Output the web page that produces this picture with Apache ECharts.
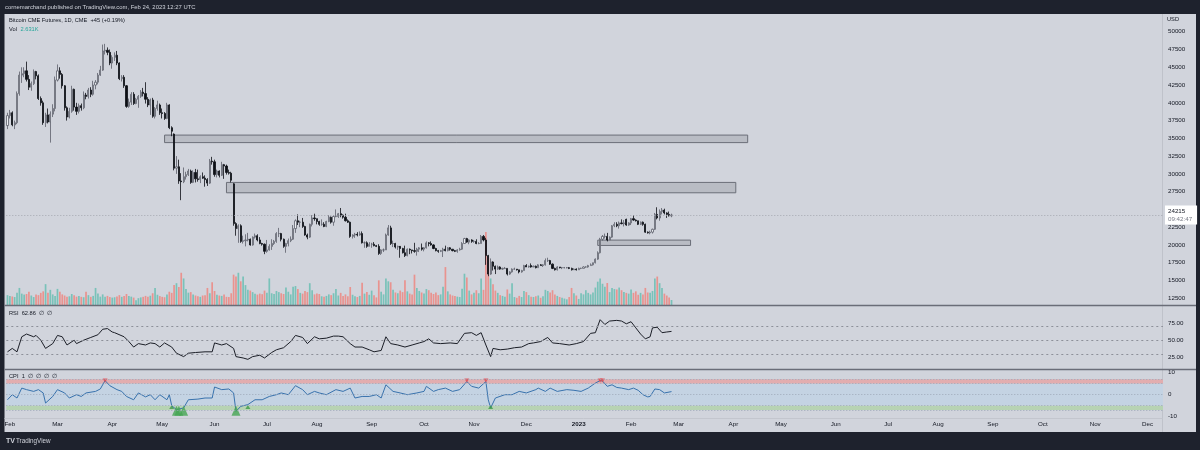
<!DOCTYPE html>
<html><head><meta charset="utf-8">
<script src="https://cdn.jsdelivr.net/npm/echarts@6/dist/echarts.min.js"></script>
<style>html,body{margin:0;padding:0;background:#1e222d;}#c{width:1200px;height:450px;}</style>
</head><body><div id="c"></div>
<script>
// ---------- DATA ----------
const startDate = '2022-01-31';   // first daily bar (weekdays only)
const barCount = 486;             // bars spanned by the time axis (incl. future space)
const monthNames = ['Jan','Feb','Mar','Apr','May','Jun','Jul','Aug','Sep','Oct','Nov','Dec'];
const priceTicks = {min:10000, max:52500, step:2500};
// daily candles [open, close, low, high]
const candles = [
[36800,38200,36300,38600],[38200,38600,37800,39000],[38600,36900,36700,38800],[36900,37200,36300,37500],[37200,41300,37000,41600],
[41300,43900,41000,44400],[43900,44100,42800,45000],[44100,44500,43600,45000],[44500,43300,43000,45800],[43300,42200,41800,43900],
[42200,42700,41700,43000],[42700,44400,42500,44700],[44400,43800,43300,44500],[43800,40600,40400,44000],[40600,40000,39600,40900],
[40000,37200,36900,40300],[37200,38300,36600,38600],[38300,37300,37100,39200],[37300,38400,34400,38800],[38400,39200,38000,39800],
[39200,43200,38800,43700],[43200,44500,43000,45400],[44500,44000,43400,45000],[44000,42400,42000,44200],[42400,39300,38900,42500],
[39300,38000,37500,39500],[38000,38800,37800,39300],[38800,41900,38600,42400],[41900,39400,38900,42000],[39400,38800,38300,40000],
[38800,39600,38500,39900],[39600,39300,38900,39900],[39300,41100,39100,41600],[41100,40900,40500,41400],[40900,41800,40600,42100],
[41800,41200,40800,42200],[41200,42500,41000,43100],[42500,42900,41900,43200],[42900,43900,42600,44200],[43900,44600,43800,45200],
[44600,47300,44500,48200],[47300,47400,46800,48300],[47400,47100,46700,47800],[47100,45600,45300,47500],[45600,46400,44800,46700],
[46400,46700,45900,47100],[46700,45600,45300,47300],[45600,43400,43200,45700],[43400,43600,43000,43900],[43600,42400,42100,43900],
[42400,39500,39300,42500],[39500,40100,39300,40600],[40100,41200,39700,41500],[41200,39900,39700,41500],[39900,40500,39800,40700],
[40500,40900,39300,41100],[40900,41500,40700,41800],[41500,41300,40900,42100],[41300,40500,39900,42900],[40500,39700,39400,40800],
[39700,40400,38300,40600],[40400,38100,37900,40700],[38100,39200,37800,39400],[39200,39700,38900,40300],[39700,38600,38300,39900],
[38600,38500,37800,39200],[38500,37800,37600,38700],[37800,39700,37700,40000],[39700,36500,36300,39800],[36500,36000,35300,36700],
[35600,30800,30500,35700],[30800,31000,30000,32500],[31000,29000,28600,32000],[29000,28900,26300,30100],[28900,29600,28700,30900],
[29600,29900,29200,30300],[29900,30400,29700,30700],[30400,28800,28600,30600],[28800,30200,28700,30500],[30200,29300,28800,30700],
[29300,29200,28900,30600],[29200,29600,28700,29800],[29600,29400,29300,30200],[29400,29200,28200,29800],[29200,28700,28300,29400],
[28700,31800,28600,32100],[31800,31700,31300,32400],[31700,29900,29600,32000],[29900,30400,29500,30600],[30400,29800,29500,30500],
[29800,31300,29700,31700],[31300,31100,29300,31400],[31100,30200,29900,31300],[30200,30100,29900,30600],[30100,29100,28800,30300],
[28600,23000,22700,28700],[23000,22300,21300,23200],[22300,22700,20300,22900],[22700,20500,20300,22900],[20500,20600,20200,21300],
[20600,20700,19800,21500],[20700,20800,20500,21700],[20800,20000,19900,20900],[20000,21100,19900,21200],[21100,21300,20900,21600],
[21300,20700,20500,21500],[20700,20200,20100,21100],[20200,20100,19900,20300],[20100,19100,18700,20200],[19100,19300,18900,20700],
[19300,19800,19200,20100],[19800,20200,19300,20800],[20200,20500,20000,20700],[20500,21600,20300,21800],[21600,21600,21100,22400],
[21600,20800,20500,21700],[20800,19800,19600,20900],[19800,20200,18900,20300],[20200,20600,19800,20900],[20600,20800,20400,21200],
[20800,22300,20700,22800],[22300,23400,21700,23600],[23400,23200,22800,24300],[23200,23200,22500,23400],[23200,22600,22400,23800],
[22600,21400,21300,22700],[21400,21100,20800,21600],[21100,22900,21000,23000],[22900,23800,22600,24200],[23800,23700,23400,24400],
[23700,23300,22900,23700],[23300,22900,22700,23400],[22900,22900,22700,23600],[22900,22600,22500,23200],[22600,23300,22500,23400],
[23300,23900,23200,24200],[23900,23200,23000,24000],[23200,24000,22700,24200],[24000,24000,23900,25000],[24000,24400,23800,24500],
[24400,24200,23900,25200],[24200,23900,23700,24300],[23900,23400,23300,24400],[23400,23200,23100,23600],[23200,21200,21000,23300],
[21200,21400,20900,21500],[21400,21500,21000,21700],[21500,21400,21200,21800],[21400,21600,21300,21900],[21600,20300,20200,21900],
[20300,20300,19600,20500],[20300,19800,19600,20500],[19800,20100,19800,20400],[20100,20100,19600,20300],[20100,19900,19800,20400],
[19900,19800,19700,20000],[19800,18800,18600,20100],[18800,19300,18600,19400],[19300,19300,19000,19500],[19300,21400,19300,21600],
[21400,22400,21300,22800],[22400,20200,20000,22700],[20200,20200,19700,20600],[20200,19700,19500,20300],[19700,19800,19300,19900],
[19800,19500,18200,19700],[19500,18900,18800,19600],[18900,18500,18300,19900],[18500,19400,18400,19500],[19400,19300,18700,19500],
[19300,19200,18800,19300],[19200,19100,18900,20300],[19100,19400,18500,19600],[19400,19600,19000,19700],[19600,19400,19200,20200],
[19400,19600,19100,19700],[19600,20300,19500,20500],[20300,20200,19800,20400],[20200,20000,19900,20500],[20000,19500,19400,20100],
[19500,19200,19100,19600],[19200,19100,18900,19300],[19100,19200,19000,19300],[19200,19400,18300,19600],[19400,19200,19100,19900],
[19200,19600,19100,19700],[19600,19400,19200,19700],[19400,19200,19100,19400],[19200,19100,19000,19300],[19100,19300,18900,19400],
[19300,19400,19200,19600],[19400,20200,19300,20400],[20200,20900,20200,21000],[20900,20400,20300,21000],[20400,20700,20100,20800],
[20700,20500,20300,20800],[20500,20500,20300,20700],[20500,20200,20100,20800],[20200,20200,20100,20400],[20200,21200,20200,21400],
[21200,20700,20500,21400],[20700,18500,17200,21000],[18500,15900,15600,18600],[15900,17600,15800,18100],[17600,17000,16400,17700],
[17000,16600,15900,17100],[16600,16900,16500,17100],[16900,16600,16500,17000],[16600,16700,16500,16800],[16700,16700,16600,16900],
[16700,15900,15700,16700],[15900,16200,15800,16300],[16200,16600,16100,16700],[16600,16600,16500,16800],[16600,16500,16400,16600],
[16500,16200,16000,16500],[16200,16400,16100,16500],[16400,17100,16400,17200],[17100,16900,16900,17300],[16900,17000,16800,17100],
[17100,16900,16800,17400],[16900,17000,16900,17100],[17000,16800,16700,17100],[16800,17200,16800,17300],[17200,17100,17100,17300],
[17100,17200,16900,17300],[17200,17800,17100,18100],[17800,17800,17600,18200],[17800,17300,17200,17900],[17300,16700,16600,17400],
[16700,16500,16400,16800],[16500,16900,16400,17000],[16900,16800,16700,16900],[16800,16800,16600,16900],[16800,16800,16700,16900],
[16800,16800,16700,16900],[16800,16700,16600,16900],[16700,16500,16400,16800],[16500,16600,16500,16700],[16600,16500,16400,16700],
[16500,16700,16500,16800],[16700,16700,16600,16800],[16700,16900,16700,17000],[16900,16900,16800,17000],[16900,17100,16800,17200],
[17100,17200,17100,17400],[17200,17500,17100,17500],[17500,18000,17400,18100],[18000,18900,17900,19100],[18900,20800,18800,21000],
[20800,21200,20600,21400],[21200,21200,20900,21600],[21200,20700,20500,21700],[20700,21100,20700,21200],[21100,22700,21000,22800],
[22700,22900,22500,23200],[22900,22700,22500,23200],[22700,23100,22300,23300],[23100,23000,22900,23600],[23000,23100,22600,23500],
[23600,22800,22700,23700],[22800,23100,22700,23200],[23100,23700,22800,23800],[23700,23500,23400,24200],[23500,23400,23300,23600],
[23400,22900,22800,23400],[22900,23200,22800,23300],[23200,22900,22700,23300],[22900,21800,21700,23000],[21800,21700,21600,21900],
[21700,21800,21500,22000],[21800,22200,21600,22300],[22200,24300,22100,24500],[24300,23800,23600,25300],[23800,24700,23400,25000],
[24700,24900,24300,25200],[24900,24500,24300,25100],[24500,24300,23800,24600],[24300,24100,24000,24700],[24100,24215,23900,24400]
];
// daily volume (contracts)
const volumes = [
5200,4800,4500,4200,6500, 9000,6000,5500,5800,7000, 5000,4200,5600,5200,6400, 7200,11000,6500,8000,5600,
4800,8500,7000,5600,5000, 4300,4600,5800,5200,4400, 4700,4300,4100,7000,5200, 4300,4800,9000,6000,4400,
5600,4400,4800,4200,3900, 4100,4500,5200,4300,4800, 5800,4700,4400,3900,2500, 3600,4000,4300,4800,4400,
4900,6200,9000,5400,4700, 4300,4100,5600,7000,6400, 10500,11500,9500,17000,14000, 8500,6500,6800,5600,5000,
4600,4300,5000,5200,9000, 6200,12000,7400,5400,5000, 4800,5500,4300,4200,6200, 16000,15000,17000,12500,15000,
10500,8000,7600,6800,5900, 5500,6000,5700,7600,6400, 14000,6200,5800,7400,6800, 6200,5800,9200,7000,5600,
9600,10000,8400,6400,6000, 7400,6800,11500,7800,5600, 6000,5800,4600,4400,4800, 5600,5200,6200,8400,5000,
6400,4800,5600,4600,9500, 5400,4600,4200,4800,11700, 6000,6800,5400,7600,5200, 4000,13000,7000,5600,14000,
12500,12000,8000,6600,6200, 7600,6800,13000,7200,6000, 5600,16000,9000,7400,6600, 6000,8400,7800,6400,5800,
6600,5200,5600,9600,20000, 7200,5600,5000,4800,4400, 4200,8600,16500,14500,7600, 5600,6400,7800,6200,14000,
8000,38500,25000,14000,11000, 7600,6400,5200,4800,4400, 8200,6000,11500,4200,3800, 4800,4200,7400,6800,5200,
4400,4200,4600,5000,3800, 4600,8000,7400,6600,7800, 5600,4800,4200,3800,3400, 3000,4200,9000,6200,5000,
3200,6200,5600,7800,6400, 5600,6600,9200,12300,14000, 11200,9600,11600,6800,9000, 8400,8200,9200,7800,6800,
6400,6000,8200,6400,7200, 5400,6400,5600,9000,6600, 6400,7400,14000,15000,11500, 9000,6000,5000,4000,2631
];
// RSI (bar index, value)
const rsiIdx = [0,2,4,6,8,11,12,14,16,19,21,23,25,28,29,32,35,38,40,42,44,45,49,51,53,55,58,60,62,64,66,69,71,74,76,79,83,86,87,90,92,95,96,99,101,103,106,108,111,113,116,119,121,124,126,129,131,134,137,139,141,144,146,149,152,154,157,159,161,164,167,170,173,175,177,179,182,186,189,192,195,197,199,201,203,204,207,210,213,216,219,221,224,227,229,232,236,239,242,245,247,249,251,253,256,258,260,262,264,266,268,270,271,273,275,277,279];
const rsiVal = [33,38,33,55,59,55,57,50,38,45,57,55,43,50,45,50,54,58,66,67,62,61,55,48,40,45,43,46,45,40,46,40,31,26,31,32,33,33,46,43,45,38,26,24,22,26,28,24,32,36,39,48,57,54,45,55,52,53,56,56,55,45,40,40,36,33,35,55,45,43,40,43,46,48,52,46,45,46,45,60,61,57,61,43,26,38,36,37,39,40,45,46,48,54,46,45,43,45,48,60,61,80,73,78,79,78,74,77,68,59,52,55,68,69,61,62,62.86];
// CPI (bar index, value)
const cpiIdx = [0,2,4,6,8,11,13,15,16,19,21,24,26,29,31,33,37,39,41,43,46,48,50,53,55,58,60,62,64,67,68,69,71,74,76,80,83,86,87,90,93,95,96,98,101,104,107,110,113,115,118,121,124,126,129,131,134,138,141,144,146,149,152,155,157,159,162,165,168,172,175,176,179,181,184,187,190,193,195,198,201,202,203,205,209,212,215,218,222,223,226,228,231,235,238,241,244,247,249,250,252,254,256,258,261,263,265,267,269,270,272,274,276,279];
const cpiVal = [-2.3,0,-1.5,3,2.3,1.5,2.3,0.8,-3.8,-0.8,2.3,0.8,-1.5,0,-0.8,0.8,1.5,2.6,6.4,4.1,2.3,1.5,-0.8,-2.3,0.8,-1,0,-2.3,0,-2.3,0,-5,-6.8,-6,-2.3,-2,-1.5,-1.5,3.5,2.3,2.6,0.8,-7.6,-5.3,-4.5,-2.3,-2.3,-0.8,0,0.8,0,4.1,2.3,0,1.5,0.8,0,2.3,1.5,3,-1.5,-0.8,-0.8,0,-1.5,4.5,1.5,0.8,0,0.8,1.5,3.8,1.5,2.3,3,1.5,2.3,6,3.8,3,6,-2.3,-6,-1.5,0,0,1.5,0.8,2.3,3,1.5,3,1.5,2.3,2,1.5,3,5.3,6.4,6.2,3.8,4.5,3.3,3,2.3,3,2,0,-1,-0.8,2.6,2.3,0.8,1.4];
const cpiRedMarks = [41,193,201,249,250];
const cpiGreenSmall = [69,101,203];
const cpiGreenBig = [71,72,74,96];
const cpiBands = {redTop:7, redBottom:5, greenTop:-5, greenBottom:-7};
// drawn zones [fromBar, toBar, topPrice, bottomPrice]
const boxes = [[66,311,35460,34400],[92,306,28800,27340],[248,287,20680,19930]];
const lastPrice = 24215;
const lastTime = '09:42:47';
const rsiLast = '62.86';
const lastVol = '2.631K';

// ---------- CHART ----------
const FF = '"Liberation Sans", Arial, sans-serif';
const cats = [];
{ let d = new Date(startDate + 'T00:00:00Z');
  while (cats.length < barCount) { const w = d.getUTCDay(); if (w !== 0 && w !== 6) cats.push(d.toISOString().slice(0,10)); d.setUTCDate(d.getUTCDate() + 1); } }

const UP = '#79c2b9', DOWN = '#e9938f';
const L = 6.3, R = 37;
const gridTopP = 14, gridHP = 302;
const FS = 6.2;

function xAx(i, showLabels) {
  return { type:'category', gridIndex:i, data:cats, boundaryGap:true,
    axisLine:{show:false}, axisTick:{show:false}, splitLine:{show:false},
    axisLabel: showLabels ? {
      show:true, color:'#131722', fontSize:FS, fontFamily:FF, margin:5,
      interval:(idx) => idx > 0 && cats[idx].slice(5,7) !== cats[idx-1].slice(5,7),
      formatter:(v) => { const m = +v.slice(5,7); return m === 1 ? '{y|' + v.slice(0,4) + '}' : monthNames[m-1]; },
      rich:{y:{fontWeight:'bold', fontSize:FS, color:'#131722', fontFamily:FF}}
    } : {show:false} };
}
const yLab = {color:'#131722', fontSize:FS, fontFamily:FF, margin:5};

const chart = echarts.init(document.getElementById('c'), null, {renderer:'canvas'});
chart.setOption({
  animation:false,
  backgroundColor:'#1e222d',
  grid:[
    {left:L, right:R, top:gridTopP, height:gridHP},
    {left:L, right:R, top:195, height:110},
    {left:L, right:R, top:306, height:68.4},
    {left:L, right:R, top:372.7, height:44}
  ],
  xAxis:[xAx(0,false), xAx(1,false), xAx(2,false), xAx(3,true)],
  yAxis:[
    {type:'value', gridIndex:0, position:'right', min:priceTicks.min, max:priceTicks.max, interval:priceTicks.step,
     axisLine:{show:false}, axisTick:{show:false}, splitLine:{show:false},
     axisLabel:Object.assign({showMinLabel:false, showMaxLabel:false, formatter:(v)=>String(v)}, yLab)},
    {type:'value', gridIndex:1, min:0, max:58000, show:false, splitLine:{show:false}},
    {type:'value', gridIndex:2, position:'right', min:0, max:100, interval:25,
     axisLine:{show:false}, axisTick:{show:false}, splitLine:{show:false},
     axisLabel:Object.assign({showMinLabel:false, showMaxLabel:false, formatter:(v)=>v.toFixed(2)}, yLab)},
    {type:'value', gridIndex:3, position:'right', min:-10, max:10, interval:10,
     axisLine:{show:false}, axisTick:{show:false}, splitLine:{show:false},
     axisLabel:Object.assign({formatter:(v)=>String(v)}, yLab)}
  ],
  graphic:[
    {type:'rect', z:-10, shape:{x:4.5, y:14, width:1191.5, height:418}, style:{fill:'#d1d4dc'}},
    {type:'text', x:5, y:7, style:{text:'cornemarchand published on TradingView.com, Feb 24, 2023 12:27 UTC', fill:'#d1d4dc', font:'5.9px ' + FF, textVerticalAlign:'middle'}},
    {type:'text', x:9, y:20.5, style:{text:'Bitcoin CME Futures, 1D, CME  +45 (+0.19%)', fill:'#131722', font:'5.7px ' + FF, textVerticalAlign:'middle'}},
    {type:'text', x:9, y:29.5, style:{text:'Vol', fill:'#131722', font:'5.7px ' + FF, textVerticalAlign:'middle'}},
    {type:'text', x:20.5, y:29.5, style:{text:lastVol, fill:'#26a69a', font:'5.7px ' + FF, textVerticalAlign:'middle'}},
    {type:'text', x:1167, y:19, style:{text:'USD', fill:'#131722', font:'5.7px ' + FF, textVerticalAlign:'middle'}},
    {type:'text', x:9, y:313, style:{text:'RSI  ' + rsiLast + '  \u2205  \u2205', fill:'#131722', font:'5.7px ' + FF, textVerticalAlign:'middle'}},
    {type:'text', x:9, y:376.5, style:{text:'CPI  1  \u2205  \u2205  \u2205  \u2205', fill:'#131722', font:'5.7px ' + FF, textVerticalAlign:'middle'}},
    {type:'line', z:50, shape:{x1:4.5, y1:305.5, x2:1196, y2:305.5}, style:{stroke:'#6a6d78', lineWidth:1.5}},
    {type:'line', z:50, shape:{x1:4.5, y1:369.5, x2:1196, y2:369.5}, style:{stroke:'#6a6d78', lineWidth:1.5}},
    {type:'line', z:-5, shape:{x1:1162.5, y1:14, x2:1162.5, y2:432}, style:{stroke:'#bfc2ca', lineWidth:1}},
    {type:'line', z:-5, shape:{x1:4.5, y1:418.5, x2:1162.5, y2:418.5}, style:{stroke:'#c3c6ce', lineWidth:1}},
    {type:'text', x:6, y:441, style:{text:'TV', fill:'#d1d4dc', font:'bold 7px ' + FF, textVerticalAlign:'middle'}},
    {type:'text', x:16, y:441, style:{text:'TradingView', fill:'#d1d4dc', font:'6.3px ' + FF, textVerticalAlign:'middle'}}
  ],
  series:[
    {type:'bar', name:'vol', xAxisIndex:1, yAxisIndex:1, z:1, barWidth:'72%',
     data:volumes.map((v,i)=>({value:v, itemStyle:{color: candles[i][1] >= candles[i][0] ? UP : DOWN}}))},
    {type:'line', name:'zones', xAxisIndex:0, yAxisIndex:0, z:2, data:[], symbol:'none',
     markArea:{silent:true,
       itemStyle:{color:'#b9bcc4', borderColor:'#6b6e78', borderWidth:1},
       data:boxes.map(b=>[{xAxis:b[0], yAxis:b[2]}, {xAxis:b[1], yAxis:b[3]}])}},
    {type:'candlestick', name:'BTC', xAxisIndex:0, yAxisIndex:0, z:3, barWidth:'68%',
     data:candles,
     itemStyle:{color:'#eceef2', color0:'#0d0f15', borderColor:'#5d606b', borderColor0:'#0d0f15', borderWidth:0.8},
     markLine:{silent:true, symbol:'none', animation:false,
       lineStyle:{color:'#a5a8b0', type:[1,2], width:1},
       label:{show:true, position:'end', distance:2, formatter:'{p|' + lastPrice + '}\n{t|' + lastTime + '}',
         backgroundColor:'#ffffff', padding:[2,5,1,3],
         rich:{p:{fontSize:FS, color:'#131722', fontFamily:FF, lineHeight:8}, t:{fontSize:FS, color:'#787b86', fontFamily:FF, lineHeight:8}}},
       data:[{yAxis:lastPrice}]}},
    {type:'line', name:'RSI', xAxisIndex:2, yAxisIndex:2, z:3, symbol:'none',
     lineStyle:{color:'#1b1e27', width:1},
     data:rsiIdx.map((x,i)=>[x, rsiVal[i]]),
     markLine:{silent:true, symbol:'none', label:{show:false},
       lineStyle:{color:'#8d9099', type:[2,3], width:1},
       data:[{yAxis:70},{yAxis:50},{yAxis:30}]}},
    {type:'line', name:'CPI', xAxisIndex:3, yAxisIndex:3, z:3, symbol:'none',
     lineStyle:{color:'#3872ad', width:1},
     data:cpiIdx.map((x,i)=>[x, cpiVal[i]]),
     markArea:{silent:true, data:[
       [{yAxis:cpiBands.redTop, itemStyle:{color:'#e2adaf'}}, {yAxis:cpiBands.redBottom}],
       [{yAxis:cpiBands.redBottom, itemStyle:{color:'#c4d3e3'}}, {yAxis:cpiBands.greenTop}],
       [{yAxis:cpiBands.greenTop, itemStyle:{color:'#b7d3b3'}}, {yAxis:cpiBands.greenBottom}]
     ]},
     markLine:{silent:true, symbol:'none', label:{show:false},
       lineStyle:{color:'#9ea8b8', type:[1,2], width:1},
       data:[{yAxis:0},{yAxis:cpiBands.redTop},{yAxis:cpiBands.redBottom},{yAxis:cpiBands.greenTop},{yAxis:cpiBands.greenBottom}]}},
    {type:'scatter', xAxisIndex:3, yAxisIndex:3, z:4, symbol:'triangle', symbolRotate:180, symbolSize:[5,4],
     itemStyle:{color:'#e0474f'}, data:cpiRedMarks.map(x=>[x, 6.4])},
    {type:'scatter', xAxisIndex:3, yAxisIndex:3, z:4, symbol:'triangle', symbolSize:[5,4],
     itemStyle:{color:'#3d9a48'}, data:cpiGreenSmall.map(x=>[x, -5.6])},
    {type:'scatter', xAxisIndex:3, yAxisIndex:3, z:4, symbol:'triangle', symbolSize:[9,10],
     itemStyle:{color:'#45a552'}, data:cpiGreenBig.map(x=>[x, -7.3])}
  ]
});
</script>
</body></html>
